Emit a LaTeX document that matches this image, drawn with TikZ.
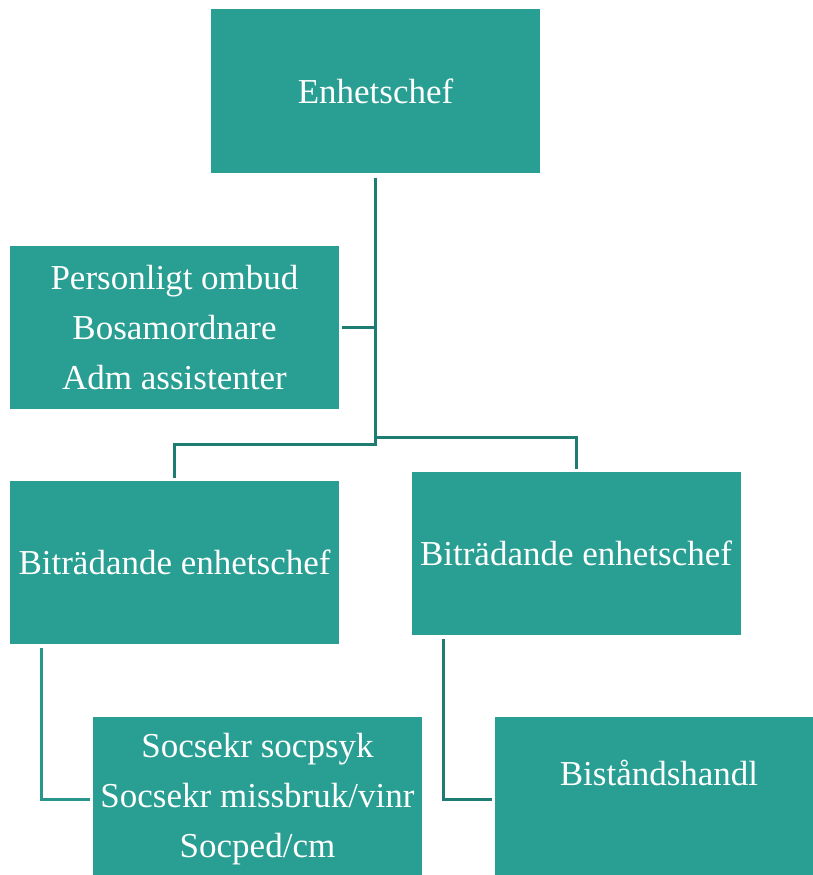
\documentclass[tikz,border=0pt]{standalone}
\usepackage{fontspec}
\setmainfont{Liberation Serif}
\definecolor{boxteal}{RGB}{41,158,146}
\definecolor{linkdark}{RGB}{31,124,114}
\definecolor{linklight}{RGB}{40,150,138}
\begin{document}
\begin{tikzpicture}[x=1pt, y=-1pt]
            \tikzstyle{unit} = [rectangle, fill=boxteal, inner sep=0pt, minimum width=329pt, minimum height=163pt, text=white, align=center, font=\fontsize{35}{50}\selectfont]
            \tikzstyle{caption} = [text=white, inner sep=0pt, font=\fontsize{35}{50}\selectfont]
            \tikzstyle{link} = [line width=3pt, color=linkdark]

            \clip (0, 0) rectangle (813, 875);
            \fill[white] (0, 0) rectangle (813, 875);

            \node[unit] (chef) at (375.5, 91) {Enhetschef};
            \node[unit] (staff) at (174.5, 327.5) {Personligt ombud\\Bosamordnare\\Adm assistenter};
            \node[unit] (bitrA) at (174.5, 562.5) {Biträdande enhetschef};
            \node[unit] (bitrB) at (576, 553.5) {Biträdande enhetschef};
            \node[unit, minimum height=164pt] (socsekr) at (257.5, 799) {Socsekr socpsyk\\Socsekr missbruk/vinr\\Socped/cm};
            \node[unit, minimum height=164pt] (bistand) at (659.5, 799) {};
            \node[caption] (bistandtxt) at (659, 773) {Biståndshandl};

            \coordinate (split) at (375.5, 437);

            \draw [link] ([yshift=-5pt]chef.south) |- ([yshift=36pt]bitrA.north) -- ([yshift=3pt]bitrA.north);
            \draw [link] (split) -| ([yshift=3pt]bitrB.north);
            \draw [link] (chef.south |- staff.east) -- ([xshift=3pt]staff.east);

            \draw [link, color=linklight] ([xshift=32pt, yshift=-4pt]bitrA.south west) |- ([xshift=-3pt]socsekr.west);
            \draw [link] ([xshift=32pt, yshift=-4pt]bitrB.south west) |- ([xshift=-3pt]bistand.west);
          \end{tikzpicture}
\end{document}
